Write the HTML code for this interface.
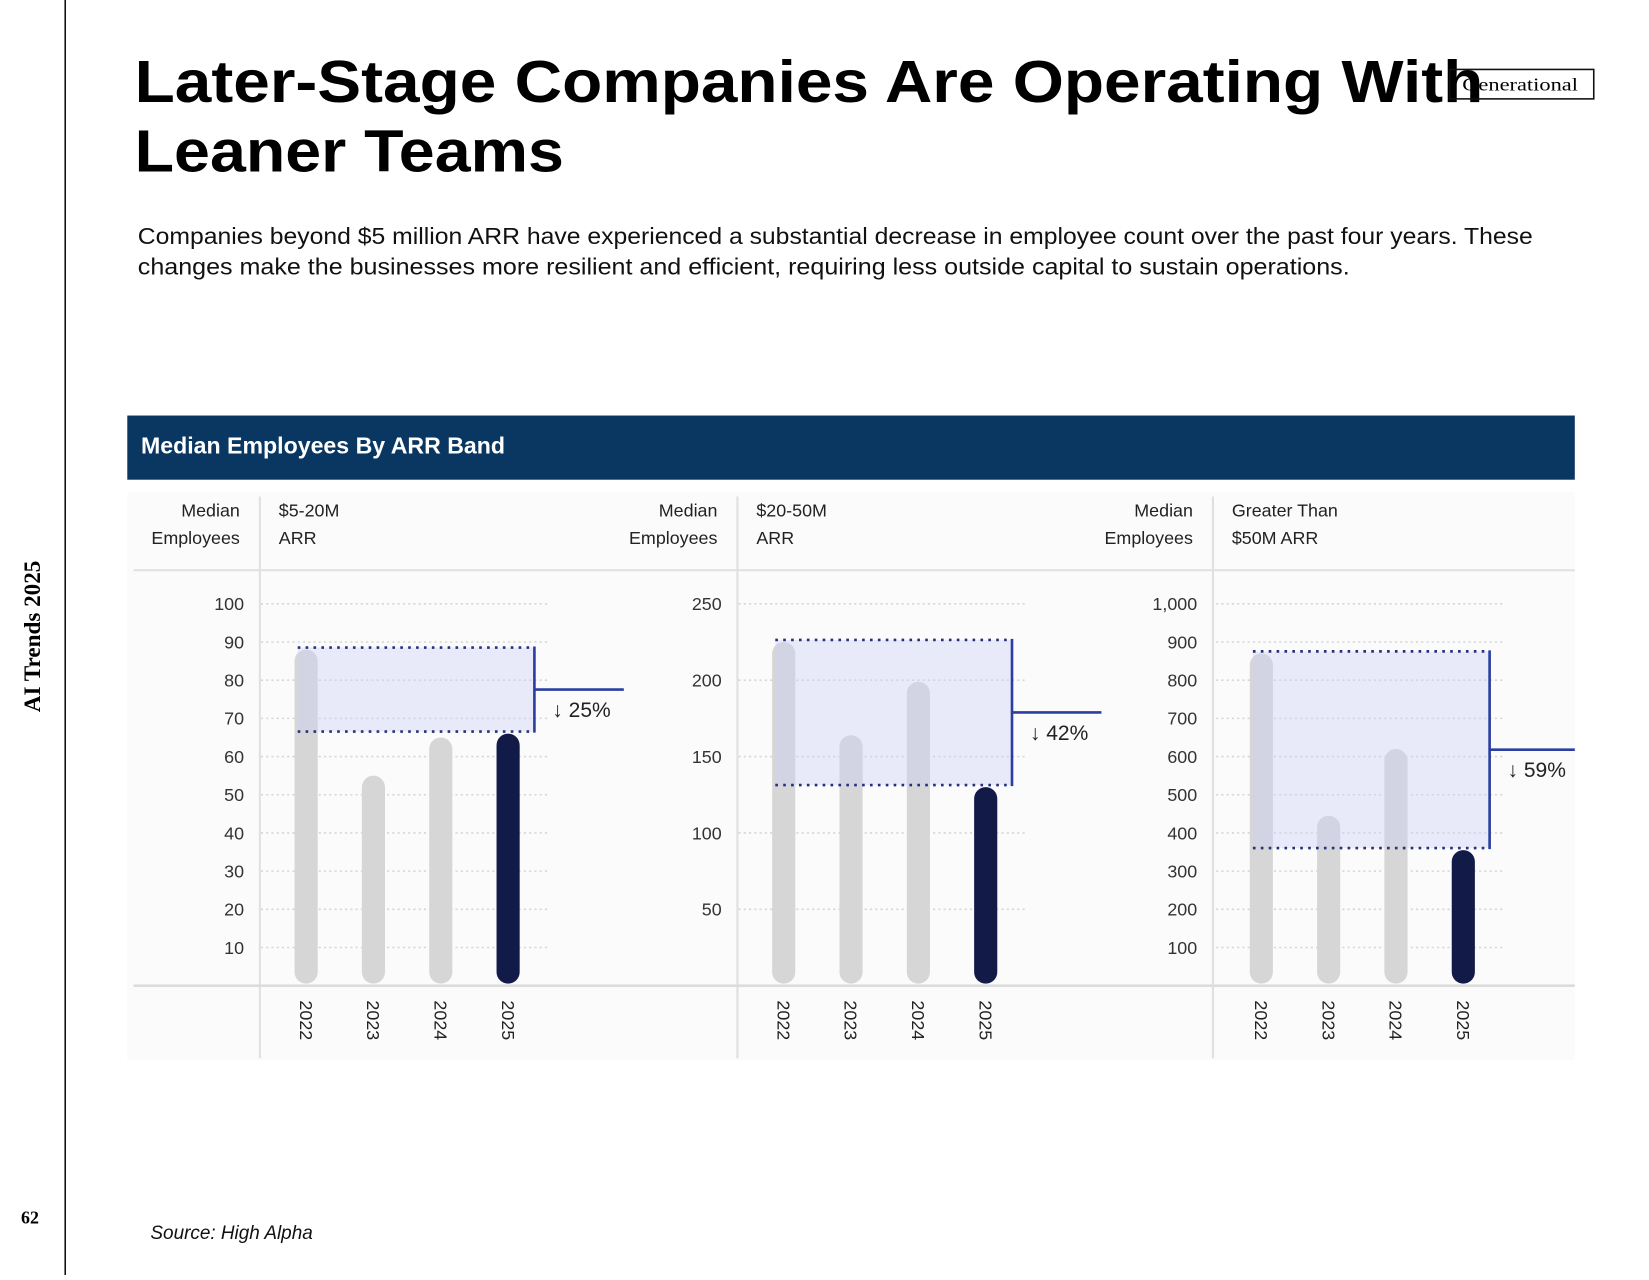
<!DOCTYPE html>
<html><head><meta charset="utf-8"><style>
html,body{margin:0;padding:0;background:#fff;width:1649px;height:1275px;overflow:hidden}
#stage{position:absolute;left:0;top:0;width:1568px;height:1212px;transform-origin:0 0;transform:scale(1.05198,1.05198)}
svg text{font-family:"Liberation Sans",sans-serif}
</style></head><body>
<div id="stage">
<svg id="svg" width="1568" height="1212" viewBox="0 0 1568 1212" xmlns="http://www.w3.org/2000/svg">
<line x1="62" y1="0" x2="62" y2="1212" stroke="#111" stroke-width="1.5"/>
<text transform="translate(38,605) rotate(-90)" text-anchor="middle" font-size="22" font-weight="bold" style="font-family:'Liberation Serif',serif">AI Trends 2025</text>
<text x="20" y="1163" font-size="17" font-weight="bold" style="font-family:'Liberation Serif',serif">62</text>
<text x="128" y="97" font-size="56" font-weight="bold" textLength="1282" lengthAdjust="spacingAndGlyphs">Later-Stage Companies Are Operating With</text>
<text x="128" y="163" font-size="56" font-weight="bold" textLength="408" lengthAdjust="spacingAndGlyphs">Leaner Teams</text>
<rect x="1378" y="66" width="137" height="28" fill="none" stroke="#111" stroke-width="1.5"/>
<text x="1390" y="86" font-size="17" style="font-family:'Liberation Serif',serif" textLength="110" lengthAdjust="spacingAndGlyphs">Generational</text>
<text x="131" y="232" font-size="22" fill="#111" textLength="1326" lengthAdjust="spacingAndGlyphs">Companies beyond $5 million ARR have experienced a substantial decrease in employee count over the past four years. These</text>
<text x="131" y="261" font-size="22" fill="#111" textLength="1152" lengthAdjust="spacingAndGlyphs">changes make the businesses more resilient and efficient, requiring less outside capital to sustain operations.</text>
<rect x="121" y="395" width="1376" height="61" fill="#0a3761"/>
<text x="134" y="431" font-size="22" font-weight="bold" fill="#fff">Median Employees By ARR Band</text>
<rect x="121" y="468" width="1376" height="540" fill="#fbfbfb"/>
<line x1="127" y1="542" x2="1497" y2="542" stroke="#e2e2e2" stroke-width="2"/>
<g id="charts"></g>
<line x1="127" y1="937" x2="1497" y2="937" stroke="#dcdcdc" stroke-width="2.5"/>
<text x="143" y="1178" font-size="18" font-style="italic" fill="#111">Source: High Alpha</text>
</svg>
</div>
<script>
const years = ["2022","2023","2024","2025"];
const band1Values = [88, 55, 65, 66];
const band2Values = [225, 164, 199, 130];
const band3Values = [870, 445, 620, 355];
const band1Ticks = [10,20,30,40,50,60,70,80,90,100];
const band2Ticks = [50,100,150,200,250];
const band3Ticks = [100,200,300,400,500,600,700,800,900,1000];
const band1Change = "↓ 25%";
const band2Change = "↓ 42%";
const band3Change = "↓ 59%";
const bandTitles = [["$5-20M","ARR"],["$20-50M","ARR"],["Greater Than","$50M ARR"]];

const NS = "http://www.w3.org/2000/svg";
const root = document.getElementById("charts");
function mk(tag, attrs, parent){
  const e = document.createElementNS(NS, tag);
  for (const k in attrs) e.setAttribute(k, attrs[k]);
  (parent||root).appendChild(e);
  return e;
}
const panels = [
  {sep:247, x0:248, values:band1Values, ticks:band1Ticks, max:100, change:band1Change, title:bandTitles[0], fmt:v=>String(v)},
  {sep:701, x0:702, values:band2Values, ticks:band2Ticks, max:250, change:band2Change, title:bandTitles[1], fmt:v=>String(v)},
  {sep:1153, x0:1156, values:band3Values, ticks:band3Ticks, max:1000, change:band3Change, title:bandTitles[2], fmt:v=>v.toLocaleString("en-US")}
];
const BASE = 937, TOP = 574;
panels.forEach((p, pi) => {
  const g = mk("g", {});
  
  
  const y = v => BASE - v / p.max * (BASE - TOP);
  const bx = i => p.x0 + 43 + i * 64;
  const sep = mk("line", {x1:p.sep, y1:472, x2:p.sep, y2:1006, stroke:"#e0e0e0", "stroke-width":2}, g);
  
  
  const lab = mk("text", {x:p.sep-19, y:491, "font-size":17, "text-anchor":"end", fill:"#222"}, g);
  
  
  mk("tspan", {x:p.sep-19, dy:0}, lab).textContent = "Median";
  mk("tspan", {x:p.sep-19, dy:26}, lab).textContent = "Employees";
  const tt = mk("text", {x:p.sep+18, y:491, "font-size":17, fill:"#222"}, g);
  
  
  mk("tspan", {x:p.sep+18, dy:0}, tt).textContent = p.title[0];
  mk("tspan", {x:p.sep+18, dy:26}, tt).textContent = p.title[1];
  p.ticks.forEach(t => {
    const gl = mk("line", {x1:p.x0, x2:p.x0+274, y1:y(t), y2:y(t), stroke:"#d6d6d6", "stroke-width":1.5, "stroke-dasharray":"2 3"}, g);
    
    
    const tl = mk("text", {x:p.sep-15, y:y(t)+6, "font-size":17, "text-anchor":"end", fill:"#333"}, g);
    
    
    tl.textContent = p.fmt(t);
  });
  p.values.forEach((v, i) => {
    const last = i === p.values.length - 1;
    const b = mk("rect", {x:bx(i)-11, y:y(v), width:22, height:BASE-2-y(v), rx:11, fill: last ? "#121a48" : "#d6d6d6"}, g);
    
    
    const xl = mk("text", {transform:"translate(" + (bx(i)-6) + ",951) rotate(90)", "font-size":17, fill:"#222"}, g);
    
    
    xl.textContent = years[i];
  });
  const hi = p.values[0], lo = p.values[p.values.length-1];
  const x1 = bx(0) - 8, x2 = bx(p.values.length-1) + 25;
  const box = mk("rect", {x:x1, y:y(hi)-2, width:x2-x1, height:y(lo)-y(hi), fill:"rgba(205,210,245,0.42)"}, g);
  
  
  [y(hi)-2, y(lo)-2].forEach(yy => {
    const dl = mk("line", {x1:x1, x2:x2, y1:yy, y2:yy, stroke:"#27307a", "stroke-width":2.5, "stroke-dasharray":"2.5 5"}, g);
    
    
  });
  const vl = mk("line", {x1:x2, x2:x2, y1:y(hi)-3, y2:y(lo)-1, stroke:"#2b3fa0", "stroke-width":2.5}, g);
  
  
  const midY = (y(hi) + y(lo)) / 2 - 2;
  const xEnd = pi === 2 ? 1497 : x2 + 85;
  const hl = mk("line", {x1:x2, x2:xEnd, y1:midY, y2:midY, stroke:"#2b3fa0", "stroke-width":2.5}, g);
  
  
  const cl = mk("text", {x:x2+17, y:midY+26, "font-size":20, fill:"#222"}, g);
  
  
  cl.textContent = p.change;
});
</script>
</body></html>
